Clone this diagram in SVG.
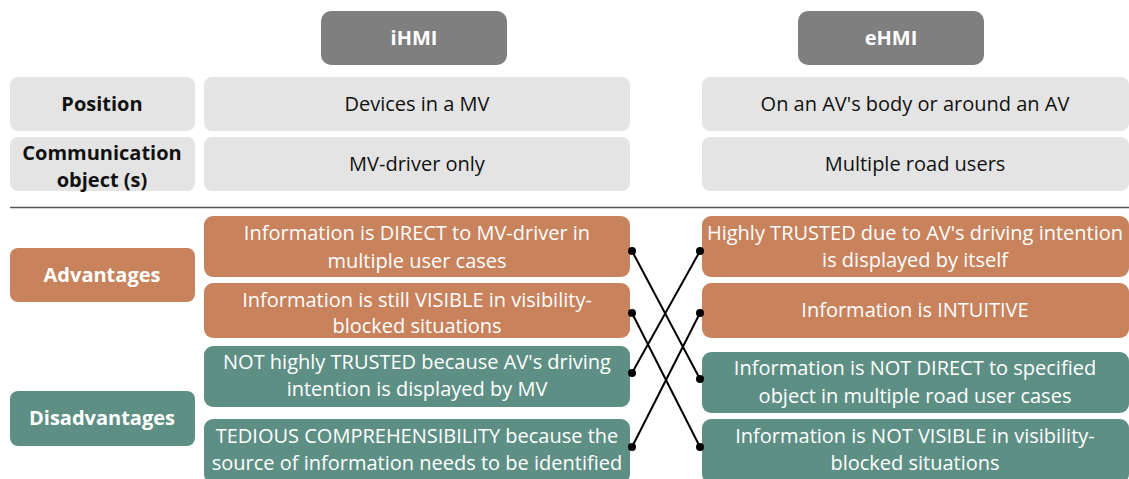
<svg xmlns="http://www.w3.org/2000/svg" width="1129" height="479" viewBox="0 0 1129 479">
<style>
text{font-family:"Open Sans","Noto Sans","Liberation Sans",sans-serif;text-anchor:middle}
.hd{fill:#7f7f7f}
.gr{fill:#e4e4e4}
.or{fill:#c8825c}
.te{fill:#5e8f85}
.b{font-weight:bold;font-size:20px}
.dk{fill:#111;font-size:20px}
.w{fill:#fff;font-size:20px}
.wb{fill:#fff;font-weight:bold;font-size:20px}
.ln{stroke:#000;stroke-width:2;fill:none}
</style>
<rect width="1129" height="479" fill="#fff"/>
<g id="hdr-ihmi"><rect class="hd" x="321" y="11" width="186" height="54" rx="10"/><text class="wb" x="414" y="45">iHMI</text></g>
<g id="hdr-ehmi"><rect class="hd" x="798" y="11" width="186" height="54" rx="10"/><text class="wb" x="891" y="45">eHMI</text></g>
<g id="lbl-position"><rect class="gr" x="10" y="77" width="185" height="54" rx="8"/><text class="b" x="102" y="111" fill="#111">Position</text></g>
<g id="ihmi-position"><rect class="gr" x="204" y="77" width="426" height="54" rx="8"/><text class="dk" x="417" y="111">Devices in a MV</text></g>
<g id="ehmi-position"><rect class="gr" x="702" y="77" width="427" height="54" rx="8"/><text class="dk" x="915" y="111">On an AV's body or around an AV</text></g>
<g id="lbl-comm"><rect class="gr" x="10" y="137" width="185" height="54" rx="8"/><text class="b" x="102" y="160" fill="#111">Communication</text><text class="b" x="102" y="187" fill="#111">object (s)</text></g>
<g id="ihmi-comm"><rect class="gr" x="204" y="137" width="426" height="54" rx="8"/><text class="dk" x="417" y="171">MV-driver only</text></g>
<g id="ehmi-comm"><rect class="gr" x="702" y="137" width="427" height="54" rx="8"/><text class="dk" x="915" y="171">Multiple road users</text></g>
<line x1="10" y1="207.5" x2="1129" y2="207.5" stroke="#555" stroke-width="1.5"/>
<g id="lbl-adv"><rect class="or" x="10" y="248" width="185" height="54" rx="8"/><text class="wb" x="102" y="282">Advantages</text></g>
<g id="lbl-dis"><rect class="te" x="10" y="391" width="185" height="55" rx="8"/><text class="wb" x="102" y="425">Disadvantages</text></g>
<g id="i-adv1"><rect class="or" x="204" y="216" width="426" height="61" rx="9"/><text class="w" x="417" y="240">Information is DIRECT to MV-driver in</text><text class="w" x="417" y="268">multiple user cases</text></g>
<g id="i-adv2"><rect class="or" x="204" y="283" width="426" height="55" rx="9"/><text class="w" x="417" y="307">Information is still VISIBLE in visibility-</text><text class="w" x="417" y="333">blocked situations</text></g>
<g id="i-dis1"><rect class="te" x="204" y="346" width="426" height="61" rx="9"/><text class="w" x="417" y="369">NOT highly TRUSTED because AV's driving</text><text class="w" x="417" y="396">intention is displayed by MV</text></g>
<g id="i-dis2"><rect class="te" x="204" y="419" width="426" height="64" rx="9"/><text class="w" x="417" y="443">TEDIOUS COMPREHENSIBILITY because the</text><text class="w" x="417" y="470">source of information needs to be identified</text></g>
<g id="e-adv1"><rect class="or" x="702" y="216" width="427" height="61" rx="9"/><text class="w" x="915" y="240">Highly TRUSTED due to AV's driving intention</text><text class="w" x="915" y="267">is displayed by itself</text></g>
<g id="e-adv2"><rect class="or" x="702" y="283" width="427" height="55" rx="9"/><text class="w" x="915" y="317">Information is INTUITIVE</text></g>
<g id="e-dis1"><rect class="te" x="702" y="352" width="427" height="61" rx="9"/><text class="w" x="915" y="375">Information is NOT DIRECT to specified</text><text class="w" x="915" y="403">object in multiple road user cases</text></g>
<g id="e-dis2"><rect class="te" x="702" y="419" width="427" height="64" rx="9"/><text class="w" x="915" y="443">Information is NOT VISIBLE in visibility-</text><text class="w" x="915" y="470">blocked situations</text></g>
<g id="connectors">
<line class="ln" x1="632" y1="251" x2="700" y2="379"/>
<line class="ln" x1="632" y1="313" x2="700" y2="447"/>
<line class="ln" x1="632" y1="373" x2="700" y2="251"/>
<line class="ln" x1="632" y1="447" x2="700" y2="313"/>
<g fill="#000">
<circle cx="632" cy="251" r="4"/><circle cx="632" cy="313" r="4"/><circle cx="632" cy="373" r="4"/><circle cx="632" cy="447" r="4"/>
<circle cx="700" cy="251" r="4"/><circle cx="700" cy="313" r="4"/><circle cx="700" cy="379" r="4"/><circle cx="700" cy="447" r="4"/>
</g>
</g>
</svg>
